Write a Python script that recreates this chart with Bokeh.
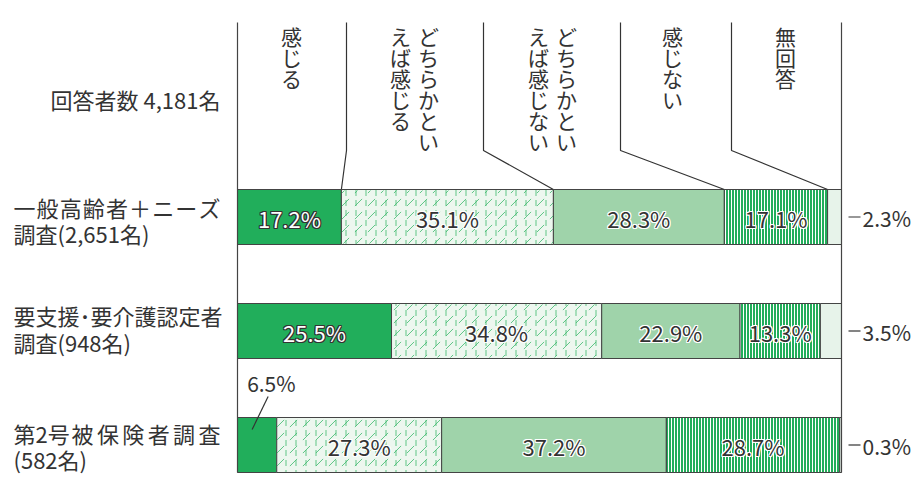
import numpy as np
from bokeh.plotting import figure
from bokeh.models import Range1d, ColumnDataSource
from bokeh.core.properties import value
from bokeh.embed import file_html
from bokeh.resources import INLINE

# ---------------- data ----------------
categories = ["感じる", "どちらかといえば感じる", "どちらかといえば感じない", "感じない", "無回答"]
header_columns = [["感じる"], ["どちらかとい", "えば感じる"], ["どちらかとい", "えば感じない"], ["感じない"], ["無回答"]]
group_lines = [[["一", "般", "高", "齢", "者", "＋", "ニ", "ー", "ズ"], ["調査(2,651名)"]],
               [["要支援･要介護認定者"], ["調査(948名)"]],
               [["第2号", "被", "保", "険", "者", "調", "査"], ["(582名)"]]]
total_label = "回答者数 4,181名"

v_kanjiru = [17.2, 25.5, 6.5]
v_dochira_kanjiru = [35.1, 34.8, 27.3]
v_dochira_kanjinai = [28.3, 22.9, 37.2]
v_kanjinai = [17.1, 13.3, 28.7]
v_mukaitou = [2.3, 3.5, 0.3]

# ---------------- layout ----------------
W, H = 914, 479
X0, X1 = 237, 841
ppu = (X1 - X0) / 100.0
def px(xp):
    return (xp - X0) / ppu

ROW_Y = [216.5, 330.5, 444.5]
BAR_H = 55
FONT = value("Noto Sans CJK JP")
TXT = "#333333"
EDGE = "#444444"
LBL_FS = 22
SPECK = "#3cb96b"

p = figure(width=W, height=H, x_range=Range1d(px(0), px(W)), y_range=Range1d(H, 0),
           output_backend="svg", toolbar_location=None, min_border=0,
           x_axis_location=None, y_axis_location=None)
p.grid.visible = False
p.outline_line_color = None

vals = np.array([v_kanjiru, v_dochira_kanjiru, v_dochira_kanjinai, v_kanjinai, v_mukaitou]).T
rights = np.cumsum(vals, axis=1)
lefts = rights - vals

styles = [
    dict(fill_color="#21ae5b"),
    dict(fill_color="#edf7ef", hatch_pattern="vertical_dash", hatch_color=SPECK,
         hatch_scale=10, hatch_weight=1, hatch_alpha=0.8),
    dict(fill_color="#9fd3aa"),
    dict(fill_color="#22ad5a", hatch_pattern="vertical_line", hatch_color="white",
         hatch_scale=3, hatch_weight=1),
    dict(fill_color="#e7f3ea"),
]

for j in range(len(categories)):
    src = ColumnDataSource(dict(y=ROW_Y, left=lefts[:, j], right=rights[:, j]))
    p.hbar(y="y", left="left", right="right", height=BAR_H, source=src,
           line_color=EDGE, line_width=1, **styles[j])
    if j == 1:
        p.hbar(y="y", left="left", right="right", height=BAR_H - 2, source=src,
               fill_alpha=0, line_alpha=0, hatch_pattern="right_diagonal_dash",
               hatch_color=SPECK, hatch_scale=13, hatch_weight=1, hatch_alpha=0.8)

# frame vertical lines
top_y = 22
p.line([0, 0], [top_y, ROW_Y[-1] + BAR_H / 2], line_color=EDGE, line_width=1.2)
p.line([100, 100], [top_y, ROW_Y[-1] + BAR_H / 2], line_color=EDGE, line_width=1.2)

# header dividers (knee lines to first bar boundaries)
div_tops_px = [346, 483, 620, 731]
knee_y = 150
bar_top0 = ROW_Y[0] - BAR_H / 2
for k, xt in enumerate(div_tops_px):
    xb = rights[0, k]
    p.line([px(xt), px(xt), xb], [top_y, knee_y, bar_top0], line_color="#333333", line_width=1.2)

# vertical header texts
col_x_px = [[291], [428, 400], [566, 538], [672], [785]]
hx, hy, ht = [], [], []
pitch = 21
for lines, xs in zip(header_columns, col_x_px):
    for s, xc in zip(lines, xs):
        for k, ch in enumerate(s):
            hx.append(px(xc)); hy.append(top_y + 3 + pitch / 2 + pitch * k); ht.append(ch)
p.text(x=hx, y=hy, text=ht, text_font=FONT, text_font_size="21px", text_color=TXT,
       text_align="center", text_baseline="middle")

# left labels
p.text(x=[px(220)], y=[98], text=[total_label], text_font=FONT, text_font_size=f"{LBL_FS}px",
       text_color=TXT, text_align="right", text_baseline="middle")
label_y = [[206, 232], [314, 341], [432, 458]]
L_LEFT, L_RIGHT = 13, 220

def tok_w(t):
    w = 0
    for ch in t:
        w += LBL_FS * (0.56 if ch.isascii() else 1.0)
    return w

sx, sy, st = [], [], []   # single, left aligned lines
lx, ly, lt = [], [], []   # justified tokens, centred
for lines, ys in zip(group_lines, label_y):
    for toks, yy in zip(lines, ys):
        if len(toks) == 1:
            sx.append(px(L_LEFT)); sy.append(yy); st.append(toks[0])
            continue
        c_first = L_LEFT + tok_w(toks[0]) / 2
        c_last = L_RIGHT - tok_w(toks[-1]) / 2
        n = len(toks)
        if tok_w(toks[0]) > LBL_FS * 1.5:
            gap = (c_last - (L_LEFT + tok_w(toks[0]))) / (n - 1.5)
            start = L_LEFT + tok_w(toks[0]) + gap / 2
            centers = [c_first] + list(np.linspace(start, c_last, n - 1))
        else:
            centers = list(np.linspace(c_first, c_last, n))
        for t, c in zip(toks, centers):
            lx.append(px(c)); ly.append(yy); lt.append(t)
p.text(x=sx, y=sy, text=st, text_font=FONT, text_font_size=f"{LBL_FS}px", text_color=TXT,
       text_align="left", text_baseline="middle")
p.text(x=lx, y=ly, text=lt, text_font=FONT, text_font_size=f"{LBL_FS}px", text_color=TXT,
       text_align="center", text_baseline="middle")

# value labels
in_x, in_y, in_t, in_c, in_h = [], [], [], [], []
out_x, out_y, out_t = [], [], []
lead_xs, lead_ys = [], []
for i in range(len(ROW_Y)):
    for j in range(len(categories)):
        v = vals[i, j]
        lab = f"{v:.1f}%"
        mid = (lefts[i, j] + rights[i, j]) / 2
        if j == len(categories) - 1:
            lead_xs.append([px(848), px(860)])
            lead_ys.append([ROW_Y[i], ROW_Y[i]])
            out_x.append(px(862)); out_y.append(ROW_Y[i] + 1); out_t.append(lab)
        elif v < 10:
            top = ROW_Y[i] - BAR_H / 2
            lead_xs.append([mid - 5 / ppu, mid + 11 / ppu])
            lead_ys.append([top + 12, top - 21])
            out_x.append(mid - 10 / ppu); out_y.append(top - 35); out_t.append(lab)
        else:
            in_x.append(mid); in_y.append(ROW_Y[i] + 1); in_t.append(lab)
            if j == 0:
                in_c.append("white"); in_h.append("#333333")
            else:
                in_c.append(TXT); in_h.append("white")

p.multi_line(xs=lead_xs, ys=lead_ys, line_color="#333333", line_width=1.2)

# halo under inside labels
offs = [(-1, 0), (1, 0), (0, -1), (0, 1), (-1, -1), (1, 1), (-1, 1), (1, -1)]
for dx, dy in offs:
    p.text(x=[x + dx / ppu for x in in_x], y=[y + dy for y in in_y], text=in_t,
           text_font=FONT, text_font_size="22px", text_color=in_h,
           text_align="center", text_baseline="middle")
p.text(x=in_x, y=in_y, text=in_t, text_font=FONT, text_font_size="22px",
       text_color=in_c, text_align="center", text_baseline="middle")
p.text(x=out_x, y=out_y, text=out_t, text_font=FONT, text_font_size="21px",
       text_color=TXT, text_align="left", text_baseline="middle")

open("out.html", "w").write(file_html(p, INLINE))
